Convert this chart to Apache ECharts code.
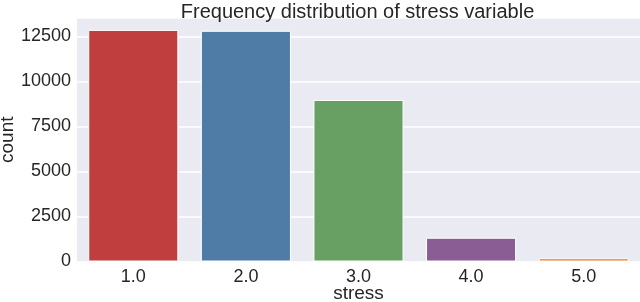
<!DOCTYPE html>
<html>
<head>
<meta charset="utf-8">
<script src="https://cdn.jsdelivr.net/npm/echarts@6/dist/echarts.min.js"></script>
<style>html,body{margin:0;padding:0;background:#fff}#c{width:640px;height:302px}</style>
</head>
<body>
<div id="c"></div>
<script>
const categories = ['1.0', '2.0', '3.0', '4.0', '5.0'];
const counts = [12860, 12810, 8970, 1320, 180];
const barColors = ['#C03F3E', '#4F7CA6', '#67A062', '#8B5D95', '#E07B32'];
const yTicks = [0, 2500, 5000, 7500, 10000, 12500];

const font = '"Liberation Sans", Arial, sans-serif';
const txt = '#262626';
const chart = echarts.init(document.getElementById('c'), null, {renderer: 'canvas'});
chart.setOption({
  animation: false,
  backgroundColor: '#ffffff',
  title: {
    text: 'Frequency distribution of stress variable',
    left: 352.5, top: -3, textAlign: 'center',
    textStyle: {fontFamily: font, fontSize: 20, fontWeight: 'normal', color: txt}
  },
  grid: {left: 77, right: 0, top: 18, bottom: 40.5, show: true, backgroundColor: '#EAEAF2', borderWidth: 0,
    containLabel: false, outerBoundsMode: 'none'},
  xAxis: {
    type: 'category', data: categories,
    axisLine: {show: false}, axisTick: {show: false},
    axisLabel: {fontFamily: font, fontSize: 18, color: txt, margin: 7},
    name: 'stress', nameLocation: 'middle', nameGap: 23, nameMoveOverlap: false,
    nameTextStyle: {fontFamily: font, fontSize: 19, color: txt}
  },
  yAxis: {
    type: 'value', min: yTicks[0], max: 13520, interval: 2500,
    axisLine: {show: false}, axisTick: {show: false},
    axisLabel: {fontFamily: font, fontSize: 18, color: txt, margin: 6,
      formatter: v => yTicks.includes(v) ? String(v) : ''},
    splitLine: {show: true, lineStyle: {color: '#ffffff', width: 1.5}},
    name: 'count', nameLocation: 'middle', nameGap: 60, nameMoveOverlap: false,
    nameTextStyle: {fontFamily: font, fontSize: 19, color: txt}
  },
  series: [{
    type: 'bar',
    data: counts.map((v, i) => ({value: v, itemStyle: {color: barColors[i]}})),
    barCategoryGap: '20%',
    itemStyle: {borderColor: '#ffffff', borderWidth: 1}
  }]
});
</script>
</body>
</html>
